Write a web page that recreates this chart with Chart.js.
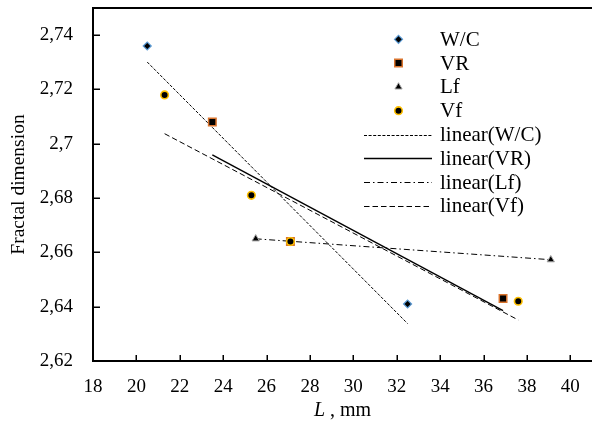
<!DOCTYPE html>
<html><head><meta charset="utf-8">
<script src="https://cdn.jsdelivr.net/npm/chart.js@4/dist/chart.umd.min.js"></script>
<style>html,body{margin:0;padding:0;background:#fff;overflow:hidden}#wrap{width:592px;height:425px;position:relative}</style>
</head><body><div id="wrap"><canvas id="c" width="592" height="425"></canvas></div>
<script>
// ---- data ----
const seriesNames = ['W/C', 'VR', 'Lf', 'Vf'];
const trendNames = ['linear(W/C)', 'linear(VR)', 'linear(Lf)', 'linear(Vf)'];
const wcX = [20.5, 27.1, 32.5];
const wcY = [2.736, 2.664, 2.641];
const vrX = [23.5, 27.1, 36.9];
const vrY = [2.708, 2.664, 2.643];
const lfX = [25.5, 39.1];
const lfY = [2.665, 2.6573];
const vfX = [21.3, 25.3, 27.1, 37.6];
const vfY = [2.718, 2.681, 2.664, 2.642];
const xTickLabels = ['18','20','22','24','26','28','30','32','34','36','38','40'];
const yTickLabels = ['2,62','2,64','2,66','2,68','2,7','2,72','2,74'];
const yTitle = 'Fractal dimension';
const xTitleItalic = 'L';
const xTitleRest = ' , mm';

const FONT = "'Liberation Serif', 'Times New Roman', serif";

function pts(xs, ys) { return xs.map((x, i) => ({x: x, y: ys[i]})); }
function fit(xs, ys) {
  const n = xs.length;
  const mx = xs.reduce((a, b) => a + b, 0) / n;
  const my = ys.reduce((a, b) => a + b, 0) / n;
  let sxx = 0, sxy = 0;
  for (let i = 0; i < n; i++) { sxx += (xs[i] - mx) ** 2; sxy += (xs[i] - mx) * (ys[i] - my); }
  const b = sxy / sxx, a = my - b * mx;
  const x0 = Math.min(...xs), x1 = Math.max(...xs);
  return [{x: x0, y: a + b * x0}, {x: x1, y: a + b * x1}];
}

const markerStyles = [
  {pointStyle: 'rectRot', radius: 4, bg: '#000', border: '#5B9BD5', bw: 1.2},
  {pointStyle: 'rect', radius: 5.3, bg: '#000', border: '#D9742E', bw: 1.5},
  {pointStyle: 'triangle', radius: 4.2, bg: '#000', border: '#A5A5A5', bw: 1},
  {pointStyle: 'circle', radius: 3.8, bg: '#000', border: '#FFC000', bw: 1.6}
];
const trendDash = [[3, 1.6], [], [6, 3, 1.5, 3], [5.5, 3]];
const trendWidth = [1, 1.4, 1, 1];

const xsAll = [wcX, vrX, lfX, vfX], ysAll = [wcY, vrY, lfY, vfY];
const datasets = [];
seriesNames.forEach((name, i) => {
  const m = markerStyles[i];
  datasets.push({
    label: name, type: 'scatter', data: pts(xsAll[i], ysAll[i]), order: 4 - i,
    pointStyle: m.pointStyle, pointRadius: m.radius, pointHoverRadius: m.radius,
    backgroundColor: m.bg, borderColor: m.border, pointBorderWidth: m.bw, borderWidth: m.bw,
    showLine: false
  });
});
trendNames.forEach((name, i) => {
  datasets.push({
    label: name, type: 'line', data: fit(xsAll[i], ysAll[i]), order: 10 + i,
    borderColor: '#000', borderWidth: trendWidth[i], borderDash: trendDash[i],
    pointRadius: 0, fill: false, tension: 0
  });
});

function drawMarker(ctx, m, x, y) {
  ctx.save();
  ctx.fillStyle = m.bg; ctx.strokeStyle = m.border; ctx.lineWidth = m.bw;
  ctx.beginPath();
  const r = m.radius;
  if (m.pointStyle === 'rectRot') {
    ctx.moveTo(x - r, y); ctx.lineTo(x, y - r); ctx.lineTo(x + r, y); ctx.lineTo(x, y + r); ctx.closePath();
  } else if (m.pointStyle === 'rect') {
    const s = r * Math.SQRT1_2; ctx.rect(x - s, y - s, 2 * s, 2 * s);
  } else if (m.pointStyle === 'triangle') {
    ctx.moveTo(x, y - r);
    ctx.lineTo(x + r * Math.sin(2 * Math.PI / 3), y - r * Math.cos(2 * Math.PI / 3));
    ctx.lineTo(x + r * Math.sin(4 * Math.PI / 3), y - r * Math.cos(4 * Math.PI / 3));
    ctx.closePath();
  } else {
    ctx.arc(x, y, r, 0, 2 * Math.PI);
  }
  ctx.fill(); ctx.stroke();
  ctx.restore();
}

const decor = {
  id: 'decor',
  afterDraw(chart) {
    const ctx = chart.ctx, ca = chart.chartArea;
    const xs = chart.scales.x, ys = chart.scales.y;
    ctx.save();
    ctx.strokeStyle = '#000';
    // top border
    ctx.lineWidth = 2;
    ctx.beginPath(); ctx.moveTo(ca.left - 1, ca.top); ctx.lineTo(ca.right + 2, ca.top); ctx.stroke();
    // inward ticks
    ctx.lineWidth = 1.5;
    xs.ticks.forEach(t => {
      const p = Math.round(xs.getPixelForValue(t.value)) + 0.25;
      ctx.beginPath(); ctx.moveTo(p, ca.bottom); ctx.lineTo(p, ca.bottom - 6); ctx.stroke();
    });
    ys.ticks.forEach(t => {
      const p = Math.round(ys.getPixelForValue(t.value)) + 0.25;
      ctx.beginPath(); ctx.moveTo(ca.left, p); ctx.lineTo(ca.left + 7, p); ctx.stroke();
    });
    // x title
    ctx.fillStyle = '#000';
    ctx.textBaseline = 'middle';
    ctx.font = 'italic 20px ' + FONT;
    const w1 = ctx.measureText(xTitleItalic).width;
    ctx.font = '20px ' + FONT;
    const w2 = ctx.measureText(xTitleRest).width;
    const cx = (ca.left + ca.right) / 2;
    const sx = cx - (w1 + w2) / 2;
    ctx.textAlign = 'left';
    ctx.font = 'italic 20px ' + FONT;
    ctx.fillText(xTitleItalic, sx, 411);
    ctx.font = '20px ' + FONT;
    ctx.fillText(xTitleRest, sx + w1, 411);
    // legend
    const lx = 398.5, tx = 440, y0 = 39.3, dy = 23.8;
    ctx.font = '21px ' + FONT;
    chart.data.datasets.forEach((ds, i) => {
      const y = y0 + i * dy;
      if (i < 4) {
        drawMarker(ctx, markerStyles[i], lx, y);
      } else {
        const j = i - 4;
        ctx.save();
        ctx.strokeStyle = '#000'; ctx.lineWidth = trendWidth[j]; ctx.setLineDash(trendDash[j]);
        ctx.beginPath(); ctx.moveTo(364, Math.round(y) + 0.5); ctx.lineTo(432, Math.round(y) + 0.5); ctx.stroke();
        ctx.restore();
      }
      ctx.fillStyle = '#000';
      ctx.textAlign = 'left'; ctx.textBaseline = 'middle';
      ctx.fillText(ds.label, tx, y + 1);
    });
    ctx.restore();
  }
};

new Chart(document.getElementById('c'), {
  data: {datasets: datasets},
  options: {
    responsive: false, animation: false, devicePixelRatio: 1,
    layout: {padding: {top: 8, right: 0, bottom: 0, left: 0}, autoPadding: false},
    plugins: {legend: {display: false}, tooltip: {enabled: false}},
    scales: {
      x: {
        type: 'linear', position: 'bottom', min: 18, max: 41,
        afterFit(s) { s.height = 64; s.paddingLeft = 0; s.paddingRight = 0; },
        grid: {display: false, drawTicks: false},
        border: {display: true, color: '#000', width: 2},
        ticks: {
          stepSize: 1, autoSkip: false, maxRotation: 0, padding: 15, color: '#000',
          font: {family: FONT, size: 19},
          callback(v) { const k = Math.round(v) - 18; return (k % 2 === 0 && k / 2 < xTickLabels.length) ? xTickLabels[k / 2] : null; }
        }
      },
      y: {
        type: 'linear', position: 'left', min: 2.62, max: 2.75,
        afterFit(s) { s.width = 93; s.paddingTop = 0; s.paddingBottom = 0; },
        grid: {display: false, drawTicks: false},
        border: {display: true, color: '#000', width: 2},
        title: {display: true, text: yTitle, color: '#000', font: {family: FONT, size: 19.5}, padding: {top: 7, bottom: 0}},
        ticks: {
          stepSize: 0.01, autoSkip: false, padding: 20, color: '#000',
          font: {family: FONT, size: 19},
          callback(v) { const k = Math.round((v - 2.62) * 100); return (k % 2 === 0 && k / 2 < yTickLabels.length) ? yTickLabels[k / 2] : null; }
        }
      }
    }
  },
  plugins: [decor]
});
</script></body></html>
